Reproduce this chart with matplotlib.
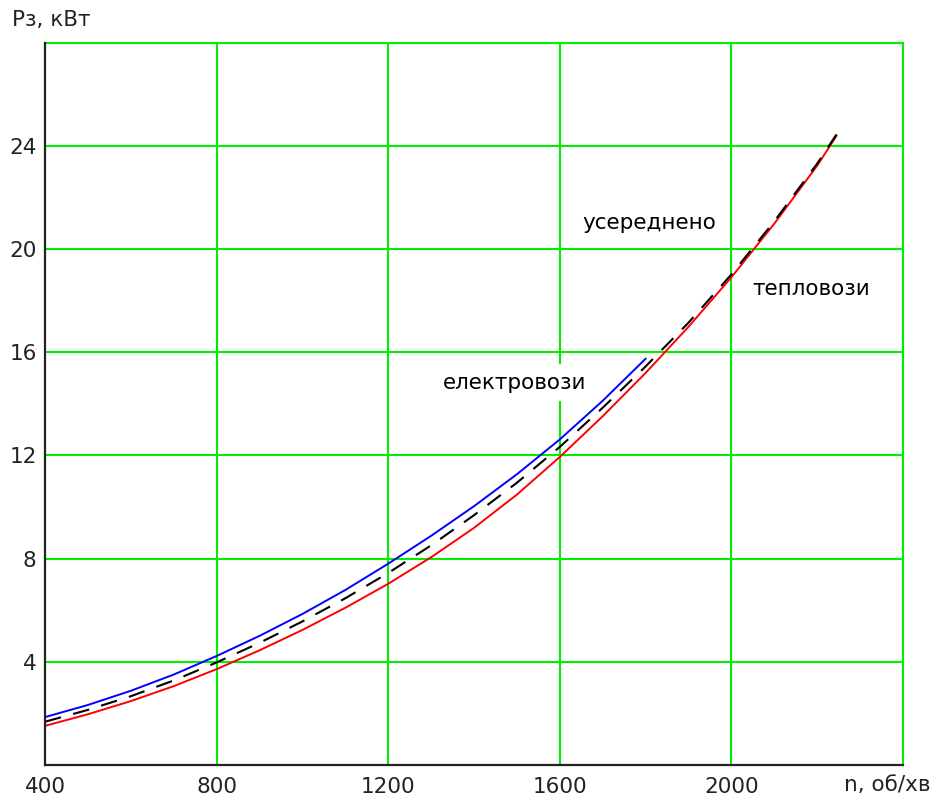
import matplotlib
matplotlib.use('Agg')
import matplotlib.pyplot as plt

plt.rcParams['font.family'] = ['DejaVu Sans']
plt.rcParams['lines.scale_dashes'] = False

# electric locomotives (blue)
n_el = [400, 500, 600, 700, 800, 900, 1000, 1100, 1200, 1300, 1400, 1500, 1600, 1700, 1800]
p_el = [1.85, 2.32, 2.87, 3.50, 4.22, 5.00, 5.85, 6.78, 7.80, 8.88, 10.03, 11.27, 12.62, 14.12, 15.75]

# diesel locomotives (red)
n_tep = [400, 500, 600, 700, 800, 900, 1000, 1100, 1200, 1300, 1400, 1500, 1600, 1700, 1800,
         1900, 2000, 2100, 2200, 2245]
p_tep = [1.51, 1.96, 2.47, 3.05, 3.71, 4.44, 5.23, 6.09, 7.02, 8.05, 9.19, 10.48, 11.94, 13.52,
         15.20, 16.99, 18.91, 20.99, 23.24, 24.40]

# averaged (black dashed)
n_avg = [400, 500, 600, 700, 800, 900, 1000, 1100, 1200, 1300, 1400, 1500, 1600, 1700, 1800,
         1900, 2000, 2100, 2200, 2245]
p_avg = [1.67, 2.13, 2.66, 3.27, 3.97, 4.73, 5.56, 6.46, 7.44, 8.51, 9.68, 10.94, 12.33, 13.85,
         15.45, 17.15, 19.02, 21.08, 23.32, 24.45]

x_ticks = [400, 800, 1200, 1600, 2000, 2400]
x_labels = ['400', '800', '1200', '1600', '2000', '']
y_ticks = [4, 8, 12, 16, 20, 24, 28]
y_labels = ['4', '8', '12', '16', '20', '24', '']

fig = plt.figure(figsize=(9.37, 8.0), dpi=100)
ax = fig.add_axes([0.048, 0.044, 0.9157, 0.9023])

green = '#00ee00'
for x in x_ticks[1:]:
    ax.axvline(x, color=green, lw=1.5, zorder=1, clip_on=False)
for y in y_ticks:
    ax.axhline(y, color=green, lw=1.5, zorder=1, clip_on=False)

ax.plot(n_el, p_el, color='#0000ff', lw=1.4, zorder=3)
ax.plot(n_tep, p_tep, color='#ff0000', lw=1.4, zorder=3)
ax.plot(n_avg, p_avg, color='black', lw=1.5, dashes=(12, 9), zorder=4)

ax.set_xlim(400, 2400)
ax.set_ylim(0, 28)
ax.set_xticks(x_ticks)
ax.set_xticklabels(x_labels)
ax.set_yticks(y_ticks)
ax.set_yticklabels(y_labels)
ax.tick_params(length=0, labelsize=15.5, colors='#222222')
ax.tick_params(axis='x', pad=9)
ax.tick_params(axis='y', pad=6)

for s in ['top', 'right']:
    ax.spines[s].set_visible(False)
for s in ['left', 'bottom']:
    ax.spines[s].set_color('#222222')
    ax.spines[s].set_linewidth(1.6)
    ax.spines[s].set_zorder(5)

box = dict(facecolor='white', edgecolor='none', pad=6)
ax.text(1809, 21.0, 'усереднено', fontsize=15.5, ha='center', va='center', bbox=box, zorder=2)
ax.text(2186, 18.47, 'тепловози', fontsize=15.5, ha='center', va='center', bbox=box, zorder=2)
ax.text(1494, 14.82, 'електровози', fontsize=15.5, ha='center', va='center', bbox=box, zorder=2)

fig.text(12 / 937, 1 - 20 / 800, 'Pз, кВт', fontsize=15.5, ha='left', va='center', color='#222222')
fig.text(931 / 937, 1 - 785 / 800, 'n, об/хв', fontsize=15.5, ha='right', va='center', color='#222222')

fig.savefig('out.png', dpi=100)
